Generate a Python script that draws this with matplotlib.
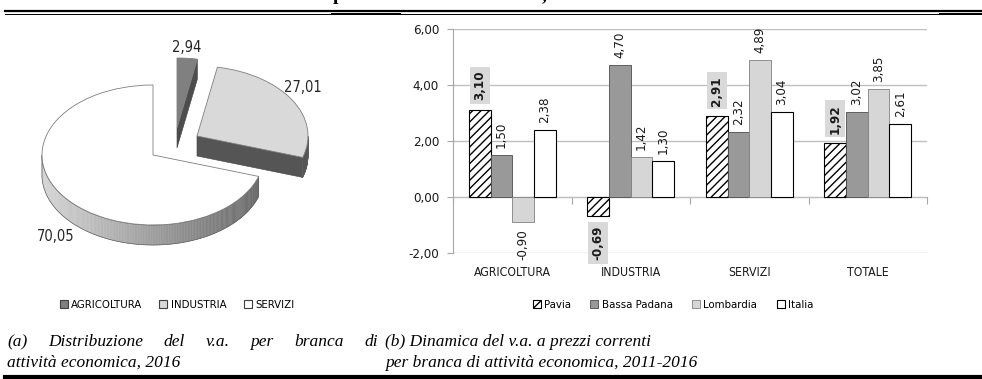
import numpy as np
import matplotlib
matplotlib.use("Agg")
import matplotlib.pyplot as plt
from matplotlib.patches import Wedge, Polygon, Patch
from matplotlib.lines import Line2D
from matplotlib.ticker import FuncFormatter

# ---- data -------------------------------------------------------------
PIE_LABELS = ["AGRICOLTURA", "INDUSTRIA", "SERVIZI"]
PIE_VALUES = [2.94, 27.01, 70.05]

SECTORS = ["AGRICOLTURA", "INDUSTRIA", "SERVIZI", "TOTALE"]
AREAS = ["Pavia", "Bassa Padana", "Lombardia", "Italia"]
PAVIA = [3.10, -0.69, 2.91, 1.92]
BASSA_PADANA = [1.50, 4.70, 2.32, 3.02]
LOMBARDIA = [-0.90, 1.42, 4.89, 3.85]
ITALIA = [2.38, 1.30, 3.04, 2.61]
Y_TICKS = [-2, 0, 2, 4, 6]

CAPTION_A = ["(a) Distribuzione del v.a. per branca di", "attività economica, 2016"]
CAPTION_B = ["(b) Dinamica del v.a. a prezzi correnti",
             "per branca di attività economica, 2011-2016"]

# ---- style ------------------------------------------------------------
W, H = 982, 379
SANS = ["Liberation Sans Narrow", "DejaVu Sans"]
SERIF = ["Liberation Serif", "DejaVu Serif"]
plt.rcParams["font.family"] = SANS
plt.rcParams["font.stretch"] = "condensed"
plt.rcParams["hatch.linewidth"] = 1.0


def fx(px):
    return px / W


def fy(py):
    return 1 - py / H


def it(v):
    return f"{v:.2f}".replace(".", ",")


fig = plt.figure(figsize=(W / 100, H / 100), dpi=100)

# ---- (a) pseudo-3D pie ------------------------------------------------
# axes scaled so that one data unit = 111 px horizontally, 70 px vertically
pax = fig.add_axes([0, fy(290), fx(380), 260 / H])
pax.set_xlim(-153 / 111, (380 - 153) / 111)
pax.set_ylim((155 - 290) / 70, (155 - 30) / 70)
pax.axis("off")

depth = 20 / 70
top_cols = ["#808080", "#d9d9d9", "#ffffff"]
side_cols = ["#4d4d4d", "#555555", None]          # None -> gradient
offsets = [(24 / 111, 27 / 70), (44 / 111, 19 / 70), (0, 0)]
lab_pos = [(0.30, 1.53), (1.35, 0.97), (-0.88, -1.17)]

vals = np.array(PIE_VALUES)
edges = 90 - 360 * np.r_[0, np.cumsum(vals)] / vals.sum()   # clockwise from 12 o'clock


def rim(c, t):
    t = np.radians(t)
    return np.column_stack([c[0] + np.cos(t), c[1] + np.sin(t)])


def cut_face(c, t, col, z):
    p = rim(c, [t])[0]
    face = [c, p, (p[0], p[1] - depth), (c[0], c[1] - depth)]
    pax.add_patch(Polygon(face, closed=True, fc=col, ec="#404040", lw=0.4, zorder=z))


for i, v in enumerate(vals):
    t1, t2 = edges[i + 1], edges[i]          # counter-clockwise start / end
    c = offsets[i]
    z = 2 + 3 * i
    # radial cut faces that turn toward the viewer
    if np.cos(np.radians(t1)) > 0.01:
        cut_face(c, t1, side_cols[i] or "#5a5a5a", z)
    if np.cos(np.radians(t2)) < -0.01:
        cut_face(c, t2, side_cols[i] or "#5a5a5a", z)
    # outer side wall on the front half
    ts = np.linspace(t1, t2, 300)
    front = ts[np.sin(np.radians(ts)) < 0]
    if len(front) > 1:
        for a, b in zip(front[:-1], front[1:]):
            pa, pb = rim(c, [a, b])
            quad = [pa, pb, (pb[0], pb[1] - depth), (pa[0], pa[1] - depth)]
            if side_cols[i] is None:
                g = 0.84 - 0.22 * (np.cos(np.radians((a + b) / 2)) + 1)
                col = (g, g, g)
            else:
                col = side_cols[i]
            pax.add_patch(Polygon(quad, closed=True, fc=col, ec=col, lw=0.3, zorder=z))
        pts = rim(c, front)
        outline = np.vstack([pts, pts[::-1] - [0, depth]])
        pax.add_patch(Polygon(outline, closed=True, fill=False, ec="#606060",
                              lw=0.5, zorder=z + 0.5))
    pax.add_patch(Wedge(c, 1, t1, t2, fc=top_cols[i], ec="#7f7f7f", lw=0.6,
                        zorder=z + 1))
    pax.text(*lab_pos[i], it(v), ha="center", va="center", fontsize=10.5,
             color="#262626", zorder=20)

fig.legend(handles=[Patch(fc=c, ec="#404040", lw=0.8) for c in top_cols],
           labels=PIE_LABELS, loc="center", bbox_to_anchor=(fx(177), fy(305)),
           ncol=3, frameon=False, fontsize=8.2, handlelength=0.7, handleheight=0.7,
           handletextpad=0.3, columnspacing=1.5, borderaxespad=0, borderpad=0)

# ---- (b) grouped bars -------------------------------------------------
ax = fig.add_axes([fx(453), fy(253), fx(927) - fx(453), (253 - 29) / H])
x = np.arange(len(SECTORS))
w = 0.183
series = [PAVIA, BASSA_PADANA, LOMBARDIA, ITALIA]
styles = [dict(color="white", edgecolor="black", hatch="////", lw=0.8),
          dict(color="#999999", edgecolor="#4d4d4d", lw=0.6),
          dict(color="#d6d6d6", edgecolor="#808080", lw=0.6),
          dict(color="white", edgecolor="black", lw=0.8)]
bars = []
for k, (vals_k, st) in enumerate(zip(series, styles)):
    b = ax.bar(x + (k - 1.5) * w, vals_k, w, label=AREAS[k], zorder=2, **st)
    bars.append(b)
    for rect, v in zip(b, vals_k):
        cx = rect.get_x() + rect.get_width() / 2
        kw = dict(rotation=90, ha="center", fontsize=9.5, color="#1a1a1a",
                  textcoords="offset points", zorder=5)
        if k == 0:
            kw.update(fontweight="bold",
                      bbox=dict(boxstyle="square,pad=0.28", fc="#d9d9d9", ec="none"))
        off = 7 if k == 0 else 5
        if v >= 0:
            ax.annotate(it(v), (cx, v), xytext=(0, off), va="bottom", **kw)
        else:
            ax.annotate(it(v), (cx, v), xytext=(0, -off), va="top", **kw)

ax.set_xlim(-0.5, len(SECTORS) - 0.5)
ax.set_ylim(Y_TICKS[0], Y_TICKS[-1])
ax.set_yticks(Y_TICKS)
ax.yaxis.set_major_formatter(FuncFormatter(lambda v, _: it(v)))
ax.set_xticks(x, SECTORS)
ax.tick_params(axis="x", length=0, pad=9, labelsize=8.8, labelcolor="#1a1a1a")
ax.tick_params(axis="y", length=4, color="#a6a6a6", labelsize=9.5,
               labelcolor="#1a1a1a", pad=6)
ax.grid(axis="y", color="#c0c0c0", lw=1)
ax.set_axisbelow(True)
for s in ("top", "right", "bottom"):
    ax.spines[s].set_visible(False)
ax.spines["left"].set_color("#a6a6a6")

sec = ax.secondary_xaxis(0, transform=ax.transData)
sec.set_xticks(np.arange(len(SECTORS) + 1) - 0.5)
sec.tick_params(length=5, color="#a6a6a6", labelbottom=False)
sec.spines["bottom"].set_color("#a6a6a6")

fig.legend(handles=bars, labels=AREAS, loc="center",
           bbox_to_anchor=(fx(673), fy(305)), ncol=4, frameon=False, fontsize=8.2,
           handlelength=0.7, handleheight=0.7, handletextpad=0.3,
           columnspacing=1.7, borderaxespad=0, borderpad=0)

# ---- captions and rules -----------------------------------------------
cap_kw = dict(family=SERIF, style="italic", stretch="normal", fontsize=12.5,
              color="black")
renderer = fig.canvas.get_renderer()


def justify(text, x0, x1, y):
    words = text.split()
    ts = [fig.text(0, y, wd, va="baseline", **cap_kw) for wd in words]
    widths = [t.get_window_extent(renderer).width for t in ts]
    gap = ((x1 - x0) - sum(widths)) / (len(words) - 1)
    pos = x0
    for t, wd in zip(ts, widths):
        t.set_x(fx(pos))
        pos += wd + gap


justify(CAPTION_A[0], 7, 378, fy(346))
fig.text(fx(7), fy(367), CAPTION_A[1], va="baseline", **cap_kw)
fig.text(fx(385), fy(346), CAPTION_B[0], va="baseline", **cap_kw)
fig.text(fx(385), fy(367), CAPTION_B[1], va="baseline", **cap_kw)

# clipped heading above (only descenders visible)
head_kw = dict(family=SERIF, fontweight="bold", stretch="normal", fontsize=14,
               va="baseline")
fig.text(fx(333), 1.0, "p", **head_kw)
fig.text(fx(542), 1.0, ",", **head_kw)

for y, x0, x1, lw in [(10.5, 5, 982, 1.6), (13.5, 5, 982, 0.7),
                      (13.8, 332, 400, 1.4), (13.8, 940, 982, 1.4),
                      (376.5, 5, 982, 3.0)]:
    fig.add_artist(Line2D([fx(x0), fx(x1)], [fy(y), fy(y)], color="black",
                          lw=lw, transform=fig.transFigure))

fig.savefig("out.png", dpi=100)
